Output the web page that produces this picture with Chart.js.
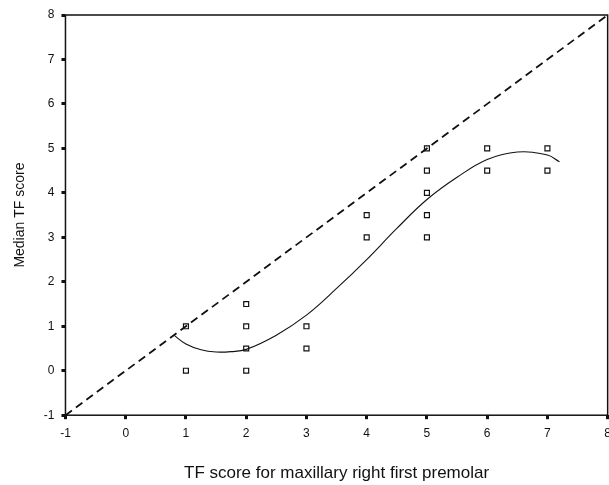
<!DOCTYPE html>
<html>
<head>
<meta charset="utf-8">
<script src="https://cdn.jsdelivr.net/npm/chart.js@4"></script>
<style>
  html, body { margin: 0; padding: 0; background: #fff; overflow: hidden; }
  #wrap { width: 618px; height: 485px; }
</style>
</head>
<body>
<div id="wrap"><canvas id="chart" width="618" height="485"></canvas></div>
<script>
// observed scores: x = TF score of the premolar, y = median TF score
const pointX = [1, 1, 2, 2, 2, 2, 3, 3, 4, 4, 5, 5, 5, 5, 5, 6, 6, 7, 7];
const pointY = [1, 0, 1.5, 1, 0.5, 0, 1, 0.5, 3.5, 3, 5, 4.5, 4, 3.5, 3, 5, 4.5, 5, 4.5];

// fitted curve
const fitX = [0.8, 1.0, 1.25, 1.5, 1.75, 2.0, 2.5, 3.0, 3.5, 4.0, 4.5, 5.0, 5.5, 6.0, 6.5, 7.0, 7.2];
const fitY = [0.8, 0.6, 0.47, 0.42, 0.43, 0.48, 0.8, 1.25, 1.85, 2.5, 3.2, 3.85, 4.35, 4.75, 4.92, 4.85, 4.7];

// line of identity
const refX = [-1, 8];
const refY = [-1, 8];

const tickVals = [-1, 0, 1, 2, 3, 4, 5, 6, 7, 8];

const xyPairs = (xs, ys) => xs.map((x, i) => ({ x, y: ys[i] }));

const ink = '#111';
const fontFam = '"Liberation Sans", Arial, sans-serif';

// draws the box round the plot area
const framePlugin = {
    id: 'frame',
    afterDraw(chart) {
        const { ctx, chartArea: a } = chart;
        ctx.save();
        ctx.strokeStyle = ink;
        ctx.lineWidth = 1.5;
        ctx.strokeRect(a.left, a.top, a.right - a.left, a.bottom - a.top);
        ctx.restore();
    }
};

const axisOpts = (title, titleSize, titlePad) => ({
    type: 'linear',
    min: -1,
    max: 8,
    afterBuildTicks: axis => { axis.ticks = tickVals.map(v => ({ value: v })); },
    grid: {
        drawOnChartArea: false,
        drawTicks: true,
        tickLength: 4,
        tickWidth: 3,
        tickColor: ink
    },
    border: { display: false },
    ticks: {
        color: ink,
        font: { family: fontFam, size: 12 },
        padding: 7,
        maxRotation: 0
    },
    title: {
        display: true,
        text: title,
        color: ink,
        font: { family: fontFam, size: titleSize },
        padding: titlePad
    }
});

new Chart(document.getElementById('chart'), {
    type: 'scatter',
    data: {
        datasets: [
            {
                label: 'Identity',
                data: xyPairs(refX, refY),
                showLine: true,
                borderColor: ink,
                borderWidth: 1.8,
                borderDash: [8, 5],
                pointRadius: 0
            },
            {
                label: 'Fit',
                data: xyPairs(fitX, fitY),
                showLine: true,
                borderColor: ink,
                borderWidth: 1.1,
                tension: 0.4,
                pointRadius: 0
            },
            {
                label: 'Observed',
                data: xyPairs(pointX, pointY),
                pointStyle: 'rect',
                pointRadius: 3.5,
                pointBackgroundColor: '#fff',
                pointBorderColor: ink,
                pointBorderWidth: 1.2
            }
        ]
    },
    options: {
        responsive: false,
        animation: false,
        layout: { padding: { left: 12, top: 15, right: 0, bottom: 1 } },
        plugins: {
            legend: { display: false },
            tooltip: { enabled: false }
        },
        scales: {
            x: axisOpts('TF score for maxillary right first premolar', 17, { top: 16, bottom: 0 }),
            y: axisOpts('Median TF score', 14, { top: 0, bottom: 8 })
        }
    },
    plugins: [framePlugin]
});
</script>
</body>
</html>
